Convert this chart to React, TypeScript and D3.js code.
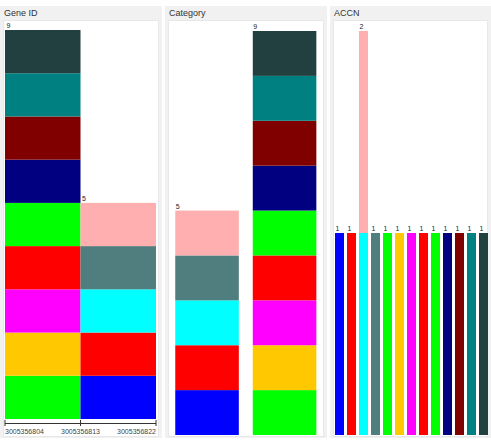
import React from "react";
import * as d3 from "d3";

// ---- data ----
const geneIds = [
  3005356804, 3005356805, 3005356806, 3005356807, 3005356808, 3005356809, 3005356810, 3005356811, 3005356812,
  3005356813, 3005356815, 3005356817, 3005356819, 3005356821,
];
const geneColors = [
  "#00ff00", "#ffc800", "#ff00ff", "#ff0000", "#00ff00", "#000080", "#800000", "#008080", "#234040",
  "#0000ff", "#ff0000", "#00ffff", "#507d7d", "#ffafaf",
];
const geneCategory = ["B", "B", "B", "B", "B", "B", "B", "B", "B", "A", "A", "A", "A", "A"];
const geneAccn = ["A5", "A6", "A7", "A8", "A9", "A10", "A11", "A12", "A13", "A1", "A2", "A3", "A4", "A3"];
const categories = ["A", "B"];
const accns = ["A1", "A2", "A3", "A4", "A5", "A6", "A7", "A8", "A9", "A10", "A11", "A12", "A13"];
const binThresholds = [3005356804, 3005356813, 3005356822];
const axisTicks = [3005356804, 3005356813, 3005356822];
const panelTitles = ["Gene ID", "Category", "ACCN"];

const FONT = "'Liberation Sans', Arial, sans-serif";

function stackBy(keys: string[], keyOf: (i: number) => string) {
  const res: { key: string; segs: { lo: number; hi: number; color: string }[]; total: number }[] = [];
  keys.forEach((k) => {
    let acc = 0;
    const segs: { lo: number; hi: number; color: string }[] = [];
    geneIds.forEach((_, i) => {
      if (keyOf(i) === k) {
        segs.push({ lo: acc, hi: acc + 1, color: geneColors[i] });
        acc += 1;
      }
    });
    res.push({ key: k, segs, total: acc });
  });
  return res;
}

const panels = [
  { x: 0, w: 162 },
  { x: 165, w: 162 },
  { x: 330, w: 161 },
];

export default function App() {
  // Panel 1: histogram on gene id
  const x1 = d3.scaleLinear().domain([binThresholds[0], binThresholds[2]]).range([5, 156]);
  const y1 = d3.scaleLinear().domain([0, 9]).range([419, 30]);
  const binKeys = ["0", "1"];
  const binOf = (i: number) => (geneIds[i] < binThresholds[1] ? "0" : "1");
  const hist = stackBy(binKeys, binOf);

  // Panel 2: category
  const x2 = d3.scaleBand<string>().domain(categories).range([167.5, 324.1]).paddingInner(0.18).paddingOuter(0.1);
  const y2 = d3.scaleLinear().domain([0, 9]).range([435, 31]);
  const cat = stackBy(categories, (i) => geneCategory[i]);

  // Panel 3: ACCN
  const x3 = d3.scaleBand<string>().domain(accns).range([333.5, 489.5]).paddingInner(0.25).paddingOuter(0.125);
  const y3 = d3.scaleLinear().domain([0, 2]).range([435, 31]);
  const acc = stackBy(accns, (i) => geneAccn[i]);

  return (
    <svg width={491} height={448} style={{ position: "absolute", left: 0, top: 0, background: "#fff" }}>
      {panels.map((p, i) => (
        <g key={i}>
          <rect x={p.x} y={6} width={p.w} height={432} fill="#f1f1f1" />
          <rect x={p.x + 3.5} y={20.5} width={p.w - 7} height={416} fill="#ffffff" stroke="#e8e8e8" />
          <text x={p.x + 4} y={16} fontFamily={FONT} fontSize={9} fill="#333">
            {panelTitles[i]}
          </text>
        </g>
      ))}

      {/* Panel 1 */}
      {hist.map((b, bi) => {
        const xa = x1(binThresholds[bi]);
        const xb = x1(binThresholds[bi + 1]);
        return (
          <g key={b.key}>
            {b.segs.map((s, si) => (
              <rect key={si} x={xa} y={y1(s.hi)} width={xb - xa} height={y1(s.lo) - y1(s.hi)} fill={s.color} />
            ))}
            <text x={xa + 1.5} y={y1(b.total) - 2} fontFamily={FONT} fontSize={7} fill="#222">
              {b.total}
            </text>
          </g>
        );
      })}
      <line x1={x1.range()[0]} x2={x1.range()[1]} y1={423.5} y2={423.5} stroke="#333" strokeWidth={1} />
      {axisTicks.map((t, i) => (
        <g key={t}>
          <line x1={x1(t)} x2={x1(t)} y1={420} y2={426} stroke="#333" strokeWidth={1} />
          <text
            x={x1(t)}
            y={434}
            fontFamily={FONT}
            fontSize={7}
            fill="#444"
            textAnchor={i === 0 ? "start" : i === axisTicks.length - 1 ? "end" : "middle"}
          >
            {String(t)}
          </text>
        </g>
      ))}

      {/* Panel 2 */}
      {cat.map((b) => (
        <g key={b.key}>
          {b.segs.map((s, si) => (
            <rect key={si} x={x2(b.key)} y={y2(s.hi)} width={x2.bandwidth()} height={y2(s.lo) - y2(s.hi)} fill={s.color} />
          ))}
          <text x={(x2(b.key) as number) + 0.5} y={y2(b.total) - 2} fontFamily={FONT} fontSize={7} fill="#222">
            {b.total}
          </text>
        </g>
      ))}

      {/* Panel 3 */}
      {acc.map((b) => (
        <g key={b.key}>
          {b.segs.map((s, si) => (
            <rect key={si} x={x3(b.key)} y={y3(s.hi)} width={x3.bandwidth()} height={y3(s.lo) - y3(s.hi)} fill={s.color} />
          ))}
          <text x={(x3(b.key) as number) + 0.5} y={y3(b.total) - 2} fontFamily={FONT} fontSize={7} fill="#222">
            {b.total}
          </text>
        </g>
      ))}
    </svg>
  );
}
